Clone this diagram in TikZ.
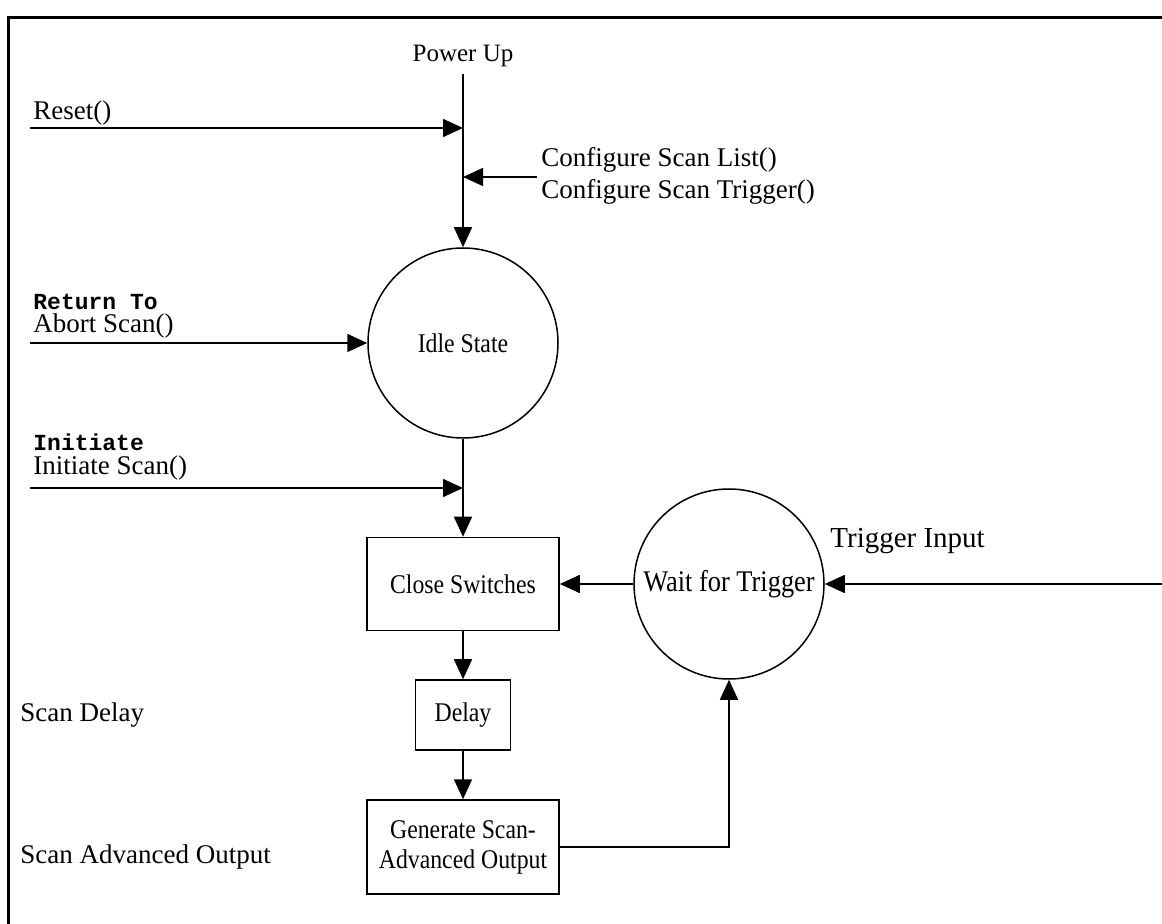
\documentclass[tikz,border=0pt]{standalone}
\usepackage{fontspec}
\setmainfont{Liberation Serif}
\setmonofont{Liberation Mono}
\newfontfamily\boxserif[FakeStretch=0.88]{Liberation Serif}
\usetikzlibrary{arrows.meta}
\tikzset{
  flow/.style={line width=0.75pt,-{Triangle[length=10pt,width=9pt]}},
  state/.style={draw,circle,line width=0.75pt,minimum size=95pt,inner sep=0pt,font=\boxserif\fontsize{13.5}{15}\selectfont},
  stepbox/.style={draw,rectangle,line width=0.75pt,inner sep=0pt,align=center,font=\boxserif\fontsize{13.5}{15}\selectfont},
  lbl/.style={anchor=west,inner sep=0pt,align=left,font=\fontsize{13.5}{16}\selectfont},
  cmd/.style={anchor=west,inner sep=0pt,font=\fontsize{11.5}{14}\selectfont\ttfamily\bfseries},
}

\begin{document}
\begin{tikzpicture}[x=0.5pt,y=-0.5pt]
  \useasboundingbox (0,0) rectangle (1162,924);
  % frame
  \draw[line width=1.5pt] (8,924)--(8,18)--(1162,18);

  % states and steps
  \node[font=\fontsize{12.5}{15}\selectfont] (pwr) at (463,56) {Power Up};
  \node[state] (idle) at (463,343) {Idle State};
  \node[state,font=\boxserif\fontsize{15}{15}\selectfont] (wait) at (729,584) {Wait for Trigger};
  \node[stepbox,minimum width=96pt,minimum height=46.5pt] (close) at (463,584) {Close Switches};
  \node[stepbox,minimum width=47.5pt,minimum height=35pt] (delay) at (463,715) {Delay};
  \node[stepbox,minimum width=96pt,minimum height=47pt] (gen) at (463,847) {Generate Scan-\\Advanced Output};

  % labels
  \node[lbl] (resetl) at (33,113) {Reset()};
  \node[lbl] (cfgl) at (541,176) {Configure Scan List()\\Configure Scan Trigger()};
  \node[cmd] (retl) at (33,302) {Return To};
  \node[lbl] (abortl) at (33,326) {Abort Scan()};
  \node[cmd] (initl) at (33,442) {Initiate};
  \node[lbl] (initsl) at (33,468) {Initiate Scan()};
  \node[lbl,font=\fontsize{14.5}{16}\selectfont] (trigl) at (830,541) {Trigger Input};
  \node[lbl] (dlyl) at (20,715) {Scan Delay};
  \node[lbl] (advl) at (20,857) {Scan Advanced Output};

  % free ends and joins
  \coordinate (resetin) at (30,128);
  \coordinate (resetj) at (463,128);
  \coordinate (cfgin) at (537,177);
  \coordinate (cfgj) at (463,177);
  \coordinate (abortin) at (30,343);
  \coordinate (initin) at (30,488);
  \coordinate (initj) at (463,488);
  \coordinate (trigin) at (1162,584);

  % connectors
  \draw[flow] (pwr.south) -- (idle.north);
  \draw[flow] (resetin) -- (resetj);
  \draw[flow] (cfgin) -- (cfgj);
  \draw[flow] (abortin) -- (idle.west);
  \draw[flow] (idle.south) -- (close.north);
  \draw[flow] (initin) -- (initj);
  \draw[flow] (wait.west) -- (close.east);
  \draw[flow] (trigin) -- (wait.east);
  \draw[flow] (close.south) -- (delay.north);
  \draw[flow] (delay.south) -- (gen.north);
  \draw[flow] (gen.east) -- (gen.east -| wait.south) -- (wait.south);
\end{tikzpicture}
\end{document}
